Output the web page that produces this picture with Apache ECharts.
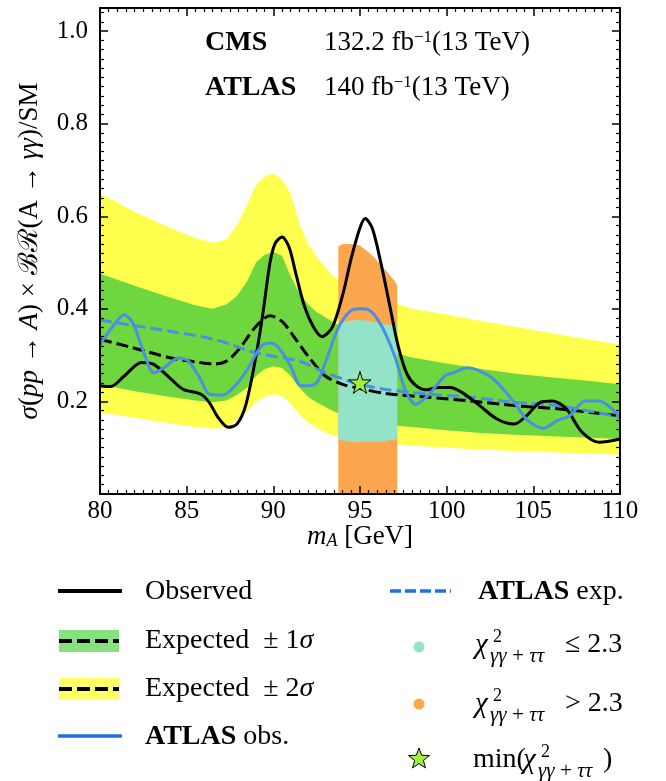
<!DOCTYPE html>
<html><head><meta charset="utf-8">
<script src="https://cdn.jsdelivr.net/npm/echarts@6/dist/echarts.min.js"></script>
<style>html,body{margin:0;padding:0;background:#fff}#c{width:666px;height:781px}</style>
</head><body><div id="c"></div>
<script>
// ---------------- data ----------------
const xTickLabels = [80, 85, 90, 95, 100, 105, 110];
const yTickLabels = [0.2, 0.4, 0.6, 0.8, 1.0];

const bandX   = [80, 82, 84, 85.5, 86.5, 87.3, 87.9, 88.5, 89.0, 89.5, 90.0, 90.5, 91.0, 91.5, 92.0, 92.5, 93.3, 94, 95, 96, 97, 98, 100, 102, 104, 106, 108, 110];
const band2Hi = [0.649, 0.610, 0.575, 0.553, 0.543, 0.550, 0.580, 0.626, 0.667, 0.686, 0.692, 0.680, 0.648, 0.585, 0.540, 0.512, 0.477, 0.455, 0.440, 0.425, 0.413, 0.400, 0.388, 0.374, 0.361, 0.348, 0.335, 0.323];
const band1Hi = [0.476, 0.450, 0.425, 0.408, 0.400, 0.410, 0.428, 0.460, 0.500, 0.517, 0.523, 0.515, 0.470, 0.434, 0.410, 0.393, 0.375, 0.360, 0.340, 0.322, 0.305, 0.295, 0.282, 0.270, 0.260, 0.252, 0.245, 0.237];
const band1Lo = [0.237, 0.222, 0.210, 0.202, 0.198, 0.202, 0.214, 0.230, 0.255, 0.270, 0.276, 0.272, 0.255, 0.230, 0.210, 0.198, 0.182, 0.170, 0.160, 0.153, 0.148, 0.145, 0.138, 0.132, 0.128, 0.125, 0.122, 0.119];
const band2Lo = [0.176, 0.165, 0.153, 0.145, 0.141, 0.146, 0.160, 0.178, 0.198, 0.210, 0.216, 0.212, 0.195, 0.172, 0.155, 0.143, 0.128, 0.120, 0.114, 0.110, 0.108, 0.105, 0.100, 0.096, 0.093, 0.090, 0.088, 0.085];

const expX = [80, 81.6, 84.1, 85.8, 86.6, 87.3, 88.0, 89.0, 89.8, 90.5, 91.3, 92.0, 93.0, 94.0, 95.0, 96.5, 98.9, 101.4, 103.9, 106.4, 110];
const expY = [0.334, 0.319, 0.294, 0.284, 0.281, 0.287, 0.312, 0.362, 0.385, 0.373, 0.334, 0.298, 0.255, 0.237, 0.228, 0.217, 0.209, 0.201, 0.191, 0.184, 0.169];

const obsX = [80, 80.6, 81.4, 82.4, 83.1, 84.1, 84.8, 85.8, 86.3, 86.8, 87.4, 87.9, 88.4, 89.0, 89.4, 89.8, 90.1, 90.5, 90.9, 91.3, 91.8, 92.3, 92.8, 93.4, 94.0, 94.5, 95.0, 95.3, 95.7, 96.2, 96.7, 97.2, 97.7, 98.2, 98.8, 99.5, 100.2, 100.9, 101.9, 102.9, 103.9, 104.6, 105.4, 106.1, 106.9, 107.8, 108.8, 110];
const obsY = [0.234, 0.232, 0.255, 0.284, 0.280, 0.248, 0.226, 0.216, 0.198, 0.166, 0.144, 0.151, 0.191, 0.298, 0.391, 0.498, 0.541, 0.555, 0.534, 0.476, 0.405, 0.362, 0.340, 0.360, 0.430, 0.510, 0.575, 0.595, 0.575, 0.500, 0.410, 0.320, 0.260, 0.235, 0.225, 0.230, 0.230, 0.219, 0.191, 0.162, 0.151, 0.169, 0.198, 0.201, 0.184, 0.134, 0.112, 0.119];

const atlasObsX = [80, 80.6, 81.4, 81.9, 82.6, 83.1, 83.7, 84.5, 85.1, 85.8, 86.3, 87.1, 87.8, 88.5, 89.3, 89.8, 90.3, 91.0, 91.6, 92.4, 93.0, 93.7, 94.4, 95.0, 95.5, 96.2, 97.0, 97.6, 98.2, 98.9, 99.9, 100.4, 101.2, 102.6, 103.9, 104.6, 105.6, 106.4, 107.1, 108.0, 108.8, 110];
const atlasObsY = [0.323, 0.355, 0.387, 0.369, 0.298, 0.262, 0.273, 0.294, 0.287, 0.248, 0.216, 0.214, 0.234, 0.269, 0.319, 0.326, 0.316, 0.276, 0.234, 0.237, 0.284, 0.355, 0.394, 0.400, 0.398, 0.366, 0.298, 0.226, 0.194, 0.212, 0.255, 0.262, 0.273, 0.251, 0.198, 0.162, 0.142, 0.159, 0.169, 0.201, 0.201, 0.166];

const atlasExpX = [80, 81.6, 84.1, 86.6, 89.0, 91.5, 93.0, 95.0, 96.5, 98.9, 101.4, 103.9, 106.4, 110];
const atlasExpY = [0.376, 0.366, 0.351, 0.334, 0.305, 0.287, 0.262, 0.237, 0.226, 0.216, 0.209, 0.198, 0.191, 0.166];

const chiHighX   = [93.75, 94.0, 94.5, 95.0, 95.4, 95.8, 96.2, 96.6, 97.0, 97.15];
const chiHighTop = [0.535, 0.540, 0.540, 0.537, 0.525, 0.512, 0.495, 0.478, 0.460, 0.450];
const chiHighBot = [0, 0, 0, 0, 0, 0, 0, 0, 0, 0];
const chiLowX    = [93.75, 94.5, 95.0, 95.5, 96.0, 96.5, 97.0, 97.15];
const chiLowTop  = [0.370, 0.375, 0.376, 0.374, 0.370, 0.366, 0.363, 0.362];
const chiLowBot  = [0.118, 0.113, 0.112, 0.114, 0.113, 0.115, 0.118, 0.120];

const bestFit = [95.0, 0.241];

// ---------------- styling ----------------
const FONT = "'Liberation Serif','DejaVu Serif',serif";
const C = {
  yellow: '#ffff4d', green: '#6ed63f', teal: '#93e3c8', orange: '#fca64e',
  blue: '#4a8fe0', legBlue: '#1f70e6', legGreen: '#86e27f', legYellow: '#ffff66', star: '#a0f03c'
};
const STAR = 'path://M50,0 L61,35 L98,35 L68,57 L79,91 L50,70 L21,91 L32,57 L2,35 L39,35 Z';

const pairs = (xs, ys) => xs.map((x, i) => [x, ys[i]]);

function bandSeries(name, xs, lo, hi, color, z) {
  return {
    type: 'custom', name, z, silent: true, clip: true,
    data: pairs(xs, hi),
    renderItem(params, api) {
      if (params.dataIndex !== 0) return null;
      const pts = [];
      for (let i = 0; i < xs.length; i++) pts.push(api.coord([xs[i], hi[i]]));
      for (let i = xs.length - 1; i >= 0; i--) pts.push(api.coord([xs[i], lo[i]]));
      return { type: 'polygon', shape: { points: pts }, style: { fill: color } };
    }
  };
}
function lineSeries(name, xs, ys, color, dashed, z) {
  return {
    type: 'line', name, z, silent: true, showSymbol: false, smooth: 0.3,
    data: pairs(xs, ys),
    lineStyle: { color, width: 3, type: dashed ? [12, 5] : 'solid' }
  };
}

const isYTick = v => yTickLabels.some(t => Math.abs(t - v) < 1e-6);

function axisCommon() {
  return {
    axisLine: { show: true, onZero: false, lineStyle: { color: '#000', width: 2 } },
    axisTick: { show: true, inside: true, length: 8, lineStyle: { color: '#000', width: 1.5 } },
    minorTick: { show: true, inside: true, splitNumber: 10, length: 4, lineStyle: { color: '#000', width: 1.2 } },
    splitLine: { show: false }, minorSplitLine: { show: false },
    z: 20
  };
}

const xAxes = [
  Object.assign(axisCommon(), { type: 'value', position: 'bottom', min: 80, max: 110, interval: 5,
    axisLabel: { show: true, color: '#000', fontFamily: FONT, fontSize: 25, margin: 5,
      formatter: v => xTickLabels.includes(v) ? String(v) : '' } }),
  Object.assign(axisCommon(), { type: 'value', position: 'top', min: 80, max: 110, interval: 5, axisLabel: { show: false } })
];
const yAxes = [
  Object.assign(axisCommon(), { type: 'value', position: 'left', min: 0, max: 1.05, interval: 0.2,
    axisLabel: { show: true, color: '#000', fontFamily: FONT, fontSize: 25, margin: 12,
      formatter: v => isYTick(v) ? v.toFixed(1) : '' } }),
  Object.assign(axisCommon(), { type: 'value', position: 'right', min: 0, max: 1.05, interval: 0.2, axisLabel: { show: false } })
];

// ---------------- graphic text & legend ----------------
const T = (x, y, text, opt = {}) => ({
  type: 'text', x, y, silent: true, z: 100,
  style: Object.assign({ text, fill: '#000', font: `${opt.size || 27}px ${FONT}`, align: opt.align || 'left', verticalAlign: 'middle' }, opt.style || {})
});
const richBase = {
  i: { fontStyle: 'italic', fontFamily: FONT, fontSize: 27 },
  r: { fontFamily: FONT, fontSize: 27 },
  b: { fontWeight: 'bold', fontFamily: FONT, fontSize: 28 },
  sup: { fontFamily: FONT, fontSize: 17, verticalAlign: 'top' },
  sub: { fontFamily: FONT, fontSize: 18, fontStyle: 'italic', verticalAlign: 'bottom' }
};
const richLeg = Object.assign({}, richBase, {
  r: { fontFamily: FONT, fontSize: 28 },
  i: { fontFamily: FONT, fontSize: 28, fontStyle: 'italic' }
});
const RT = (x, y, text, rich, opt = {}) => ({
  type: 'text', x, y, silent: true, z: 100, rotation: opt.rotation || 0,
  style: { text, rich: rich || richBase, fill: '#000', font: `27px ${FONT}`, align: opt.align || 'left', verticalAlign: 'middle' }
});

function chiLabel(x, y) {
  return [
    T(x, y, 'χ', { style: { font: `italic 29px ${FONT}` } }),
    T(x + 18, y - 8, '2', { size: 18 }),
    T(x + 15, y + 11, 'γγ\u2009+\u2009ττ', { style: { font: `italic 21px ${FONT}` } })
  ];
}
// legend star icon (five-pointed star outline around a centre)
function starIcon(cx, cy, R, r) {
  const pts = [];
  for (let k = 0; k < 10; k++) {
    const a = -Math.PI / 2 + k * Math.PI / 5;
    const rr = k % 2 === 0 ? R : r;
    pts.push([cx + rr * Math.cos(a), cy + rr * Math.sin(a)]);
  }
  return { type: 'polygon', silent: true, z: 100, shape: { points: pts }, style: { fill: C.star, stroke: '#000', lineWidth: 1 } };
}

const graphics = [
  // header
  RT(205, 43, '{b|CMS}', richBase),
  RT(324, 43, '{r|132.2 fb}{sup|−1}{r|(13 TeV)}', richBase),
  RT(205, 88, '{b|ATLAS}', richBase),
  RT(324, 88, '{r|140 fb}{sup|−1}{r|(13 TeV)}', richBase),
  // axis titles
  RT(360, 537, '{i|m}{sub|A}{r| [GeV]}', richBase, { align: 'center' }),
  RT(30, 251, '{i|σ}{r|(}{i|pp}{r| → }{i|A}{r|) × ℬℛ(A → }{i|γγ}{r|)/SM}', richBase, { align: 'center', rotation: Math.PI / 2 }),
  // legend left column
  { type: 'line', silent: true, shape: { x1: 58, y1: 591, x2: 122, y2: 591 }, style: { stroke: '#000', lineWidth: 4 } },
  T(145, 592, 'Observed', { size: 28 }),
  { type: 'rect', silent: true, shape: { x: 59, y: 630, width: 60, height: 22 }, style: { fill: C.legGreen } },
  { type: 'line', silent: true, shape: { x1: 59, y1: 641, x2: 119, y2: 641 }, style: { stroke: '#000', lineWidth: 4, lineDash: [13, 5] } },
  RT(145, 641, '{r|Expected  ± 1}{i|σ}', richLeg),
  { type: 'rect', silent: true, shape: { x: 59, y: 678, width: 60, height: 22 }, style: { fill: C.legYellow } },
  { type: 'line', silent: true, shape: { x1: 59, y1: 689, x2: 119, y2: 689 }, style: { stroke: '#000', lineWidth: 4, lineDash: [13, 5] } },
  RT(145, 689, '{r|Expected  ± 2}{i|σ}', richLeg),
  { type: 'line', silent: true, shape: { x1: 58, y1: 736, x2: 122, y2: 736 }, style: { stroke: C.legBlue, lineWidth: 3.5 } },
  RT(145, 737, '{b|ATLAS}{r| obs.}', richLeg),
  // legend right column
  { type: 'line', silent: true, shape: { x1: 390, y1: 591, x2: 451, y2: 591 }, style: { stroke: C.legBlue, lineWidth: 3.5, lineDash: [11, 4] } },
  RT(478, 592, '{b|ATLAS}{r| exp.}', richLeg),
  { type: 'circle', silent: true, shape: { cx: 419, cy: 647, r: 5.5 }, style: { fill: C.teal } },
  ...chiLabel(475, 645),
  T(565, 645, '≤ 2.3', { size: 28 }),
  { type: 'circle', silent: true, shape: { cx: 419, cy: 704, r: 5.5 }, style: { fill: C.orange } },
  ...chiLabel(475, 704),
  T(565, 704, '> 2.3', { size: 28 }),
  starIcon(419, 759, 11, 4.6),
  T(473, 760, 'min(', { size: 28 }),
  ...chiLabel(523, 760),
  T(603, 760, ')', { size: 28 })
];

const chart = echarts.init(document.getElementById('c'), null, { renderer: 'canvas' });
chart.setOption({
  animation: false,
  backgroundColor: '#fff',
  grid: { left: 100, right: 46, top: 8, bottom: 287, containLabel: false, outerBoundsMode: 'none' },
  xAxis: xAxes,
  yAxis: yAxes,
  series: [
    bandSeries('±2σ', bandX, band2Lo, band2Hi, C.yellow, 1),
    bandSeries('±1σ', bandX, band1Lo, band1Hi, C.green, 2),
    bandSeries('chi2>2.3', chiHighX, chiHighBot, chiHighTop, C.orange, 3),
    bandSeries('chi2<=2.3', chiLowX, chiLowBot, chiLowTop, C.teal, 4),
    lineSeries('Expected', expX, expY, '#000', true, 5),
    lineSeries('ATLAS exp.', atlasExpX, atlasExpY, C.blue, true, 6),
    lineSeries('Observed', obsX, obsY, '#000', false, 7),
    lineSeries('ATLAS obs.', atlasObsX, atlasObsY, C.blue, false, 8),
    { type: 'scatter', name: 'min chi2', z: 10, silent: true, data: [bestFit], symbol: STAR, symbolSize: 22,
      itemStyle: { color: C.star, borderColor: '#000', borderWidth: 1, opacity: 1 } }
  ],
  graphic: graphics
});
</script>
</body></html>
